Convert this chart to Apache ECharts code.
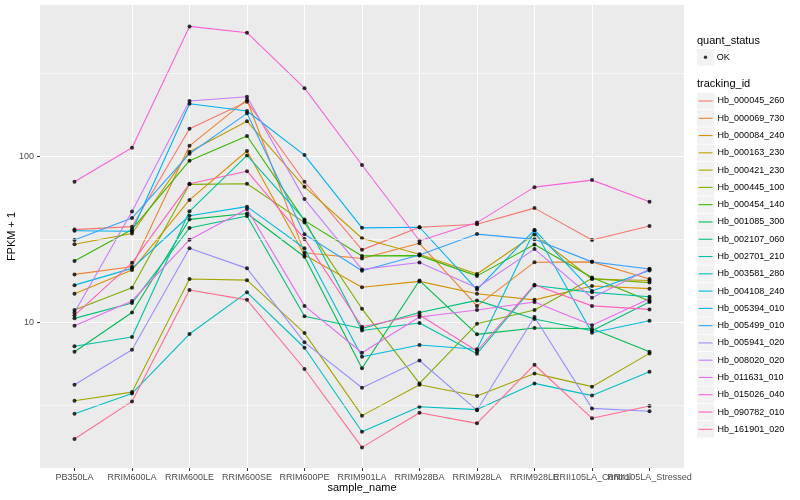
<!DOCTYPE html>
<html><head><meta charset="utf-8">
<script src="https://cdn.jsdelivr.net/npm/echarts@6/dist/echarts.min.js"></script>
<style>html,body{margin:0;padding:0;background:#fff}#c{width:800px;height:500px}</style>
</head><body><div id="c"></div>
<script>
// ---------------- data ----------------
const categories = ['PB350LA','RRIM600LA','RRIM600LE','RRIM600SE','RRIM600PE','RRIM901LA','RRIM928BA','RRIM928LA','RRIM928LE','RRII105LA_Control','RRII105LA_Stressed'];
const trackingIds = ['Hb_000045_260','Hb_000069_730','Hb_000084_240','Hb_000163_230','Hb_000421_230','Hb_000445_100','Hb_000454_140','Hb_001085_300','Hb_002107_060','Hb_002701_210','Hb_003581_280','Hb_004108_240','Hb_005394_010','Hb_005499_010','Hb_005941_020','Hb_008020_020','Hb_011631_010','Hb_015026_040','Hb_090782_010','Hb_161901_020'];
const hb_000045_260 = [36.3, 37.8, 147, 214, 70.5, 27.4, 37.5, 39.1, 48.9, 31.4, 38.2];
const hb_000069_730 = [19.5, 21.7, 116, 220, 26.3, 24.3, 30.0, 12.6, 23.1, 23.2, 18.3];
const hb_000084_240 = [14.9, 20.7, 54.8, 108, 25.5, 16.3, 17.7, 14.9, 13.7, 16.6, 16.0];
const hb_000163_230 = [29.6, 34.4, 107, 163, 65.7, 32.2, 25.8, 19.6, 33.9, 18.3, 17.9];
const hb_000421_230 = [3.38, 3.81, 18.3, 18.0, 8.64, 2.75, 4.22, 3.61, 4.94, 4.11, 6.52];
const hb_000445_100 = [11.9, 16.2, 68, 68.5, 40, 12.1, 4.3, 9.83, 11.9, 18.4, 17.4];
const hb_000454_140 = [23.5, 36.4, 94.4, 133, 41.1, 25.2, 25.3, 19.1, 29.5, 18.7, 13.5];
const hb_001085_300 = [6.67, 11.5, 41.8, 45.4, 24.9, 5.30, 17.9, 8.49, 9.27, 9.18, 6.67];
const hb_002107_060 = [10.6, 13.1, 37.1, 43.8, 10.9, 9.2, 11.5, 13.6, 10.5, 8.93, 13.3];
const hb_002701_210 = [7.2, 8.18, 46.8, 101.6, 41.7, 8.96, 9.93, 6.49, 16.7, 15.2, 14.3];
const hb_003581_280 = [2.82, 3.74, 8.53, 15.2, 7.05, 2.20, 3.11, 2.99, 4.30, 3.63, 5.05];
const hb_004108_240 = [16.8, 21.2, 44, 49.9, 28.0, 6.22, 7.32, 6.9, 36, 8.68, 10.25];
const hb_005394_010 = [35.7, 35.5, 208, 188, 102, 37.2, 37.5, 15.8, 36.1, 15.5, 20.6];
const hb_005499_010 = [31.4, 42.6, 104, 182, 34.0, 20.5, 25.5, 34.1, 31.7, 23.2, 21.0];
const hb_005941_020 = [4.22, 6.86, 28.0, 21.2, 7.6, 4.05, 5.91, 2.96, 10.8, 3.04, 2.92];
const hb_008020_020 = [11.5, 46.7, 216, 229, 55.4, 20.9, 23.0, 16.2, 27.7, 14.1, 21.0];
const hb_011631_010 = [9.57, 13.5, 31.5, 48.3, 12.6, 6.58, 10.8, 11.9, 13.3, 9.62, 13.9];
const hb_015026_040 = [70.5, 113, 608, 557, 258, 88.9, 31.1, 40, 65.4, 72.1, 53.4];
const hb_090782_010 = [11.05, 22.9, 68.5, 81.6, 31.9, 9.43, 11.1, 6.74, 16.9, 12.6, 12.0];
const hb_161901_020 = [1.99, 3.35, 15.7, 13.7, 5.25, 1.77, 2.86, 2.47, 5.57, 2.65, 3.14];
const seriesValues = [hb_000045_260, hb_000069_730, hb_000084_240, hb_000163_230, hb_000421_230, hb_000445_100, hb_000454_140, hb_001085_300, hb_002107_060, hb_002701_210, hb_003581_280, hb_004108_240, hb_005394_010, hb_005499_010, hb_005941_020, hb_008020_020, hb_011631_010, hb_015026_040, hb_090782_010, hb_161901_020];
const yTickLabels = [10, 100];
const yMinorBreaks = [3.1623, 31.623, 316.23];
const quantStatus = ['OK'];

// ---------------- style ----------------
const colors = ['#F8766D','#EA8331','#D89000','#C09B00','#A3A500','#7CAE00','#39B600','#00BB4E','#00BF7D','#00C1A3','#00BFC4','#00BAE0','#00B0F6','#35A2FF','#9590FF','#C77CFF','#E76BF3','#FA62DB','#FF62BC','#FF6C91'];
const FONT = 'Liberation Sans, Arial, Helvetica, sans-serif';
const X_MIN = -0.6, X_MAX = 10.6;
const catIdx = categories.map((c, i) => i);
// padded with the (empty-labelled) panel edges so no real label is treated as min/max label
const labelValues = [X_MIN].concat(catIdx, [X_MAX]);

const lineSeries = trackingIds.map((id, k) => ({
  type: 'line', name: id,
  data: seriesValues[k].map((v, i) => [i, v]),
  showSymbol: false, symbol: 'none', silent: true, animation: false,
  lineStyle: { color: colors[k], width: 1.1 },
  itemStyle: { color: colors[k] },
  z: 3
}));

const pointData = [];
seriesValues.forEach(arr => arr.forEach((v, i) => pointData.push([i, v])));

const minorSeries = {
  type: 'line', name: '_minor', data: [], silent: true, animation: false, z: 1,
  markLine: {
    silent: true, symbol: 'none', animation: false,
    label: { show: false },
    lineStyle: { color: '#FFFFFF', width: 0.55, type: 'solid' },
    emphasis: { disabled: true },
    data: yMinorBreaks.map(v => ({ yAxis: v }))
  }
};

// legend key backgrounds + titles (layout only)
const rowH = 17.28, keyX = 697, firstRow = 101, okRow = 57.3;
const graphics = [];
graphics.push({ type: 'rect', z: 0, shape: { x: keyX, y: okRow - rowH / 2 + 0.4, width: rowH, height: rowH - 0.8 }, style: { fill: '#F2F2F2' }, silent: true });
trackingIds.forEach((id, k) => {
  graphics.push({ type: 'rect', z: 0, shape: { x: keyX, y: firstRow - rowH / 2 + k * rowH + 0.4, width: rowH, height: rowH - 0.8 }, style: { fill: '#F2F2F2' }, silent: true });
});
graphics.push({ type: 'text', z: 1, style: { x: keyX, y: 40.7, text: 'quant_status', font: '11px ' + FONT, fill: '#000', verticalAlign: 'middle' }, silent: true });
graphics.push({ type: 'text', z: 1, style: { x: keyX, y: 84, text: 'tracking_id', font: '11px ' + FONT, fill: '#000', verticalAlign: 'middle' }, silent: true });

const GRID_LEFT = 40;
const chart = echarts.init(document.getElementById('c'), null, { renderer: 'canvas' });
chart.setOption({
  animation: false,
  backgroundColor: '#FFFFFF',
  textStyle: { fontFamily: FONT },
  grid: { left: GRID_LEFT, top: 5, width: 644, height: 463, show: true, backgroundColor: '#EBEBEB', borderWidth: 0, containLabel: false, outerBoundsMode: 'none' },
  xAxis: {
    type: 'value', min: X_MIN, max: X_MAX, minInterval: 1, maxInterval: 1,
    axisLine: { show: false },
    axisTick: { show: true, length: 3, lineStyle: { color: '#333333', width: 1 }, customValues: catIdx },
    axisLabel: { customValues: labelValues, formatter: v => { const r = Math.round(v); return (Math.abs(v - r) < 1e-6 && categories[r]) ? categories[r] : ''; }, fontSize: 9, color: '#4D4D4D', margin: 5, fontFamily: FONT, hideOverlap: false },
    splitLine: { show: true, showMinLine: false, showMaxLine: false, lineStyle: { color: '#FFFFFF', width: 1.1 } },
    name: 'sample_name', nameLocation: 'middle', nameGap: 14.5, nameMoveOverlap: false,
    nameTextStyle: { fontSize: 11, color: '#000000', fontFamily: FONT }
  },
  yAxis: {
    type: 'log', logBase: 10, min: 1.33, max: 818,
    axisLine: { show: false },
    axisTick: { show: false },
    axisLabel: { formatter: v => { const r = Math.round(v); return yTickLabels.includes(r) && Math.abs(v - r) < 1e-3 ? String(r) : ''; }, fontSize: 9, color: '#4D4D4D', margin: 6, fontFamily: FONT },
    splitLine: { show: true, showMinLine: false, showMaxLine: false, lineStyle: { color: '#FFFFFF', width: 1.1 } },
    name: 'FPKM + 1', nameLocation: 'middle', nameGap: 22.5, nameRotate: 90, nameMoveOverlap: false,
    nameTextStyle: { fontSize: 11, color: '#000000', fontFamily: FONT }
  },
  legend: [
    {
      data: quantStatus.map(s => ({ name: s, icon: 'circle' })),
      orient: 'vertical', left: 703.8, top: okRow - rowH / 2, padding: 0, itemGap: 0,
      itemWidth: 3.4, itemHeight: 3.4, selectedMode: false, z: 5,
      textStyle: { fontSize: 9, color: '#000', lineHeight: rowH, fontFamily: FONT, padding: [0, 0, 0, 4.6] }
    },
    {
      data: trackingIds.map((id, k) => ({ name: id, icon: 'rect', itemStyle: { color: colors[k], borderWidth: 0 } })),
      orient: 'vertical', left: 698.6, top: firstRow - rowH / 2, padding: 0, itemGap: 0,
      itemWidth: 14, itemHeight: 1.1, selectedMode: false, z: 5,
      textStyle: { fontSize: 9, color: '#000', lineHeight: rowH, fontFamily: FONT }
    }
  ],
  graphic: { elements: graphics },
  series: [minorSeries].concat(lineSeries).concat([{
    type: 'scatter', name: quantStatus[0], data: pointData, symbol: 'circle', symbolSize: 4,
    itemStyle: { color: '#000000' }, silent: true, animation: false, z: 4
  }])
});

// y-axis tick marks only at the labelled breaks, positioned through the axis scale
const yTicks = yTickLabels.map(v => {
  const py = chart.convertToPixel({ yAxisIndex: 0 }, v);
  return { type: 'line', z: 1, silent: true, shape: { x1: GRID_LEFT - 3, y1: py, x2: GRID_LEFT, y2: py }, style: { stroke: '#333333', lineWidth: 1 } };
});
chart.setOption({ graphic: { elements: graphics.concat(yTicks) } });
</script></body></html>
